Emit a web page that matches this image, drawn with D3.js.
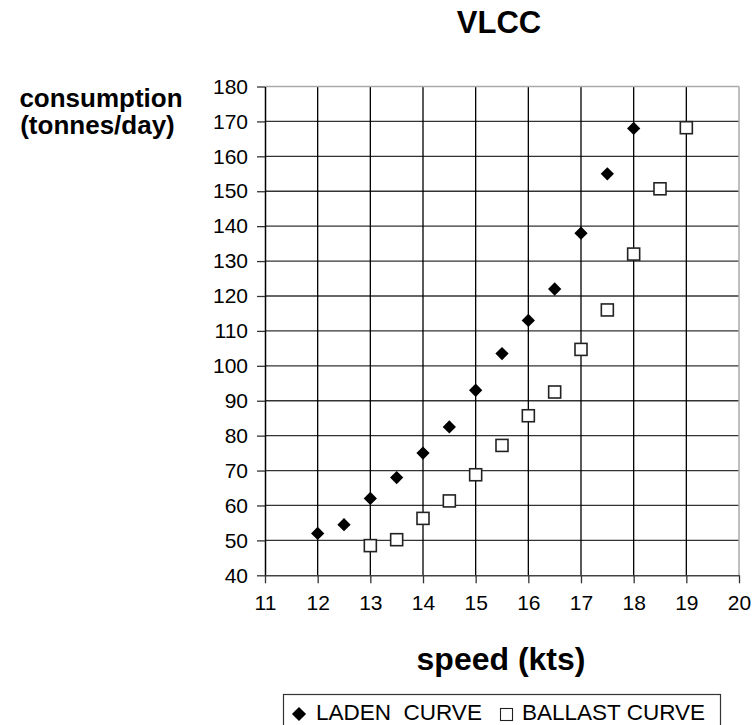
<!DOCTYPE html>
<html><head><meta charset="utf-8">
<script src="https://cdn.jsdelivr.net/npm/d3@7"></script>
<style>body{margin:0;background:#fff}svg{display:block}text{font-family:"Liberation Sans",Arial,sans-serif}</style>
</head><body>
<script>
const title = "VLCC";
const speedTicks = [11,12,13,14,15,16,17,18,19,20];
const consTicks = [40,50,60,70,80,90,100,110,120,130,140,150,160,170,180];
const ladenSpeed = [12,12.5,13,13.5,14,14.5,15,15.5,16,16.5,17,17.5,18];
const ladenCons  = [52,54.5,62,68,75,82.5,93,103.5,113,122,138,155,168];
const ballastSpeed = [13,13.5,14,14.5,15,15.5,16,16.5,17,17.5,18,18.5,19];
const ballastCons  = [48.5,50.2,56.3,61.3,68.8,77.2,85.7,92.5,104.7,116,132,150.7,168.2];
const legendLabels = ["LADEN  CURVE","BALLAST CURVE"];

const W=753,H=725;
const svg=d3.select("body").append("svg").attr("width",W).attr("height",H);
const L=265,R=739,T=86.5,B=575.3;
const x=d3.scaleLinear().domain([11,20]).range([L,R]);
const y=d3.scaleLinear().domain([40,180]).range([B,T]);

// horizontal grid
svg.append("g").selectAll("line").data(consTicks.filter(v=>v>40&&v<180)).join("line")
  .attr("x1",L).attr("x2",R).attr("y1",d=>y(d)).attr("y2",d=>y(d))
  .attr("stroke","#333").attr("stroke-width",1.3);
// vertical grid
svg.append("g").selectAll("line").data(speedTicks.filter(v=>v>11&&v<20)).join("line")
  .attr("x1",d=>x(d)).attr("x2",d=>x(d)).attr("y1",T).attr("y2",B)
  .attr("stroke","#000").attr("stroke-width",1.3);
// top & right border
svg.append("line").attr("x1",L).attr("x2",R).attr("y1",T).attr("y2",T).attr("stroke","#aaa").attr("stroke-width",1.5);
svg.append("line").attr("x1",R).attr("x2",R).attr("y1",T).attr("y2",B).attr("stroke","#aaa").attr("stroke-width",1.5);

// axes
const yAxis=svg.append("g").attr("transform",`translate(${L},0)`)
  .call(d3.axisLeft(y).tickValues(consTicks).tickSize(8).tickPadding(9).tickSizeOuter(0));
yAxis.select(".domain").attr("stroke","#000").attr("stroke-width",1.5);
yAxis.selectAll(".tick line").attr("stroke","#333").attr("stroke-width",1.3);
yAxis.selectAll("text").attr("font-size",21).attr("fill","#000");
const xAxis=svg.append("g").attr("transform",`translate(0,${B})`)
  .call(d3.axisBottom(x).tickValues(speedTicks).tickSize(8).tickPadding(12).tickSizeOuter(0));
xAxis.select(".domain").attr("stroke","#444").attr("stroke-width",1.5);
xAxis.selectAll(".tick line").attr("stroke","#333").attr("stroke-width",1.3);
xAxis.selectAll("text").attr("font-size",21).attr("fill","#000");

// markers
const diamond=d3.symbol().type(d3.symbolSquare).size(88);
svg.append("g").selectAll("path").data(ladenSpeed.map((s,i)=>[s,ladenCons[i]])).join("path")
  .attr("d",diamond).attr("transform",d=>`translate(${x(d[0])},${y(d[1])}) rotate(45)`).attr("fill","#000");
svg.append("g").selectAll("rect").data(ballastSpeed.map((s,i)=>[s,ballastCons[i]])).join("rect")
  .attr("x",d=>x(d[0])-6).attr("y",d=>y(d[1])-6).attr("width",12).attr("height",12)
  .attr("fill","#fff").attr("stroke","#222").attr("stroke-width",1.6);

// titles
svg.append("text").attr("x",499).attr("y",33).attr("text-anchor","middle").attr("font-size",31).attr("font-weight","bold").text(title);
svg.append("text").attr("x",101).attr("y",106.5).attr("text-anchor","middle").attr("font-size",26).attr("font-weight","bold").text("consumption");
svg.append("text").attr("x",97.5).attr("y",133.5).attr("text-anchor","middle").attr("font-size",26).attr("font-weight","bold").text("(tonnes/day)");
svg.append("text").attr("x",501).attr("y",670).attr("text-anchor","middle").attr("font-size",32).attr("font-weight","bold").text("speed (kts)");

// legend
svg.append("rect").attr("x",283.5).attr("y",694.5).attr("width",437).attr("height",40).attr("fill","#fff").attr("stroke","#333").attr("stroke-width",1.2);
svg.append("path").attr("d",d3.symbol().type(d3.symbolSquare).size(100)).attr("transform","translate(299,714) rotate(45)").attr("fill","#000");
svg.append("text").attr("x",316).attr("y",719.5).attr("font-size",22.5).style("white-space","pre").text(legendLabels[0]);
svg.append("rect").attr("x",500.5).attr("y",708.5).attr("width",12).attr("height",12).attr("fill","#fff").attr("stroke","#222").attr("stroke-width",1.1);
svg.append("text").attr("x",522).attr("y",719.5).attr("font-size",22.5).text(legendLabels[1]);
</script>
</body></html>
